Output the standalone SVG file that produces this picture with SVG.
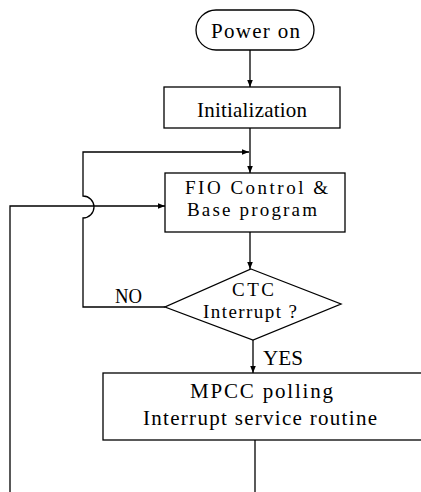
<svg xmlns="http://www.w3.org/2000/svg" width="421" height="492" viewBox="0 0 421 492">
<style>
.s{fill:#fff;stroke:#000;stroke-width:1.3}
.l{fill:none;stroke:#000;stroke-width:1.3}
text{font-family:"Liberation Serif","Times New Roman",serif;font-size:21px;fill:#000}
.t2{font-size:19px}
</style>
<defs>
<marker id="a" viewBox="0 0 10 10" refX="10" refY="5" markerWidth="7" markerHeight="7" markerUnits="userSpaceOnUse" orient="auto">
<path d="M0,1 L10,5 L0,9 z" fill="#000"/>
</marker>
</defs>
<rect width="421" height="492" fill="#fff"/>
<g id="connectors">
<path class="l" d="M250,50 V87" marker-end="url(#a)"/>
<path class="l" d="M250,128 V173" marker-end="url(#a)"/>
<path class="l" d="M165,307 H83 V218 A11,11 0 0 0 83,196 V152 H249" marker-end="url(#a)"/>
<path class="l" d="M10,492 V206 H165" marker-end="url(#a)"/>
<path class="l" d="M250,232 V269" marker-end="url(#a)"/>
<path class="l" d="M253,340 V373" marker-end="url(#a)"/>
<path class="l" d="M255,440 V492"/>
<text x="115" y="303" textLength="27" lengthAdjust="spacingAndGlyphs">NO</text>
<text x="263" y="365" textLength="40" lengthAdjust="spacingAndGlyphs">YES</text>
</g>
<g id="power">
<rect class="s" x="196" y="10" width="118" height="40" rx="20" ry="20"/>
<text x="211" y="38" textLength="89" lengthAdjust="spacing">Power on</text>
</g>
<g id="init">
<rect class="s" x="164" y="87" width="176" height="41"/>
<text x="197" y="117" textLength="110" lengthAdjust="spacing">Initialization</text>
</g>
<g id="fio">
<rect class="s" x="165" y="173" width="180" height="59"/>
<text class="t2" x="185" y="194" textLength="143" lengthAdjust="spacing">FIO Control &amp;</text>
<text class="t2" x="187" y="216" textLength="130" lengthAdjust="spacing">Base program</text>
</g>
<g id="ctc">
<polygon class="s" points="251,269 341,304 253,340 165,307"/>
<text class="t2" x="232" y="296" textLength="42" lengthAdjust="spacing">CTC</text>
<text class="t2" x="203" y="318" textLength="94" lengthAdjust="spacing">Interrupt ?</text>
</g>
<g id="mpcc">
<rect class="s" x="103" y="373" width="330" height="67"/>
<text x="190" y="398" textLength="143" lengthAdjust="spacing">MPCC polling</text>
<text x="143" y="425" textLength="234" lengthAdjust="spacing">Interrupt service routine</text>
</g>
</svg>
